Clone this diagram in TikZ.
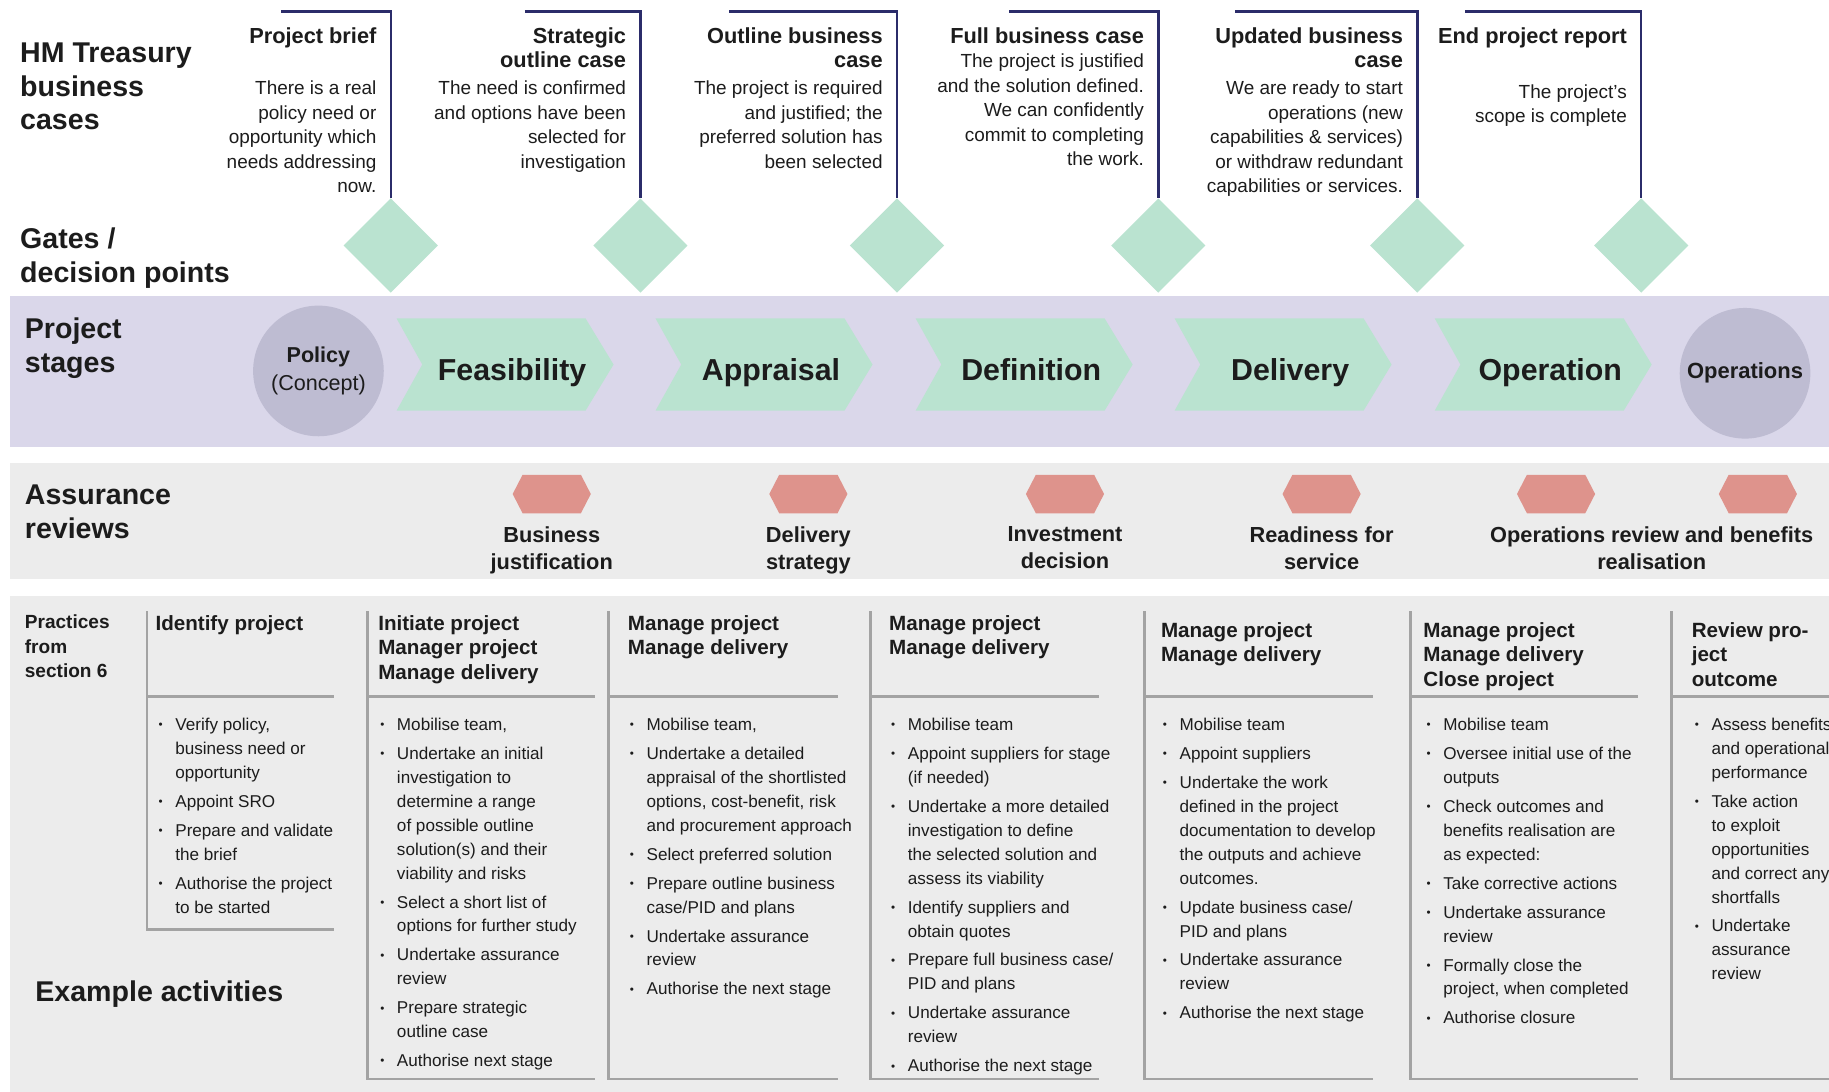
\documentclass[tikz,border=0pt]{standalone}
\usepackage{fontspec}
\setmainfont{Liberation Sans}
\usepackage{xcolor}
\usepackage{tikz}
\usetikzlibrary{shapes.geometric}

\definecolor{navy}{HTML}{2B2C6A}
\definecolor{mint}{HTML}{BAE3D0}
\definecolor{stageband}{HTML}{DAD7EA}
\definecolor{endfill}{HTML}{BEBCD2}
\definecolor{paleband}{HTML}{ECECEC}
\definecolor{salmon}{HTML}{DE938C}
\definecolor{rulegray}{HTML}{A3A3A3}
\definecolor{ink}{HTML}{1C1C1C}

\newcommand{\blt}{\llap{\raisebox{0.9pt}{\fontsize{6}{6}\selectfont\textbullet}\hspace{6.5pt}}}

\begin{document}
\begin{tikzpicture}[x=0.6pt, y=-0.6pt,
    every node/.style={text=ink, inner sep=0pt},
    rowtitle/.style={font=\fontsize{14.7}{17.4}\selectfont\bfseries, anchor=north west, yshift=10.7pt, align=left},
    casetitle/.style={font=\fontsize{11.2}{12.6}\selectfont\bfseries, anchor=north east, yshift=8.2pt, align=right},
    casetext/.style={font=\fontsize{9.75}{12.6}\selectfont, anchor=north east, yshift=7.1pt, align=right},
    caseline/.style={draw=navy, line width=1.3pt},
    gate/.style={diamond, fill=mint, minimum size=48.6pt},
    stage/.style={fill=mint},
    stagelabel/.style={font=\fontsize{15.6}{18}\selectfont\bfseries, anchor=base},
    endstage/.style={circle, fill=endfill, minimum size=67.2pt, align=center},
    review/.style={fill=salmon},
    reviewlabel/.style={font=\fontsize{11.2}{13.8}\selectfont\bfseries, anchor=north, yshift=8.2pt, align=center},
    colrule/.style={draw=rulegray, line width=1.5pt},
    colhead/.style={font=\fontsize{10.6}{12.6}\selectfont\bfseries, anchor=north west, yshift=7.7pt, align=left},
    colitems/.style={font=\fontsize{8.8}{12.3}\selectfont, anchor=north west, yshift=6.4pt, align=left}]

\useasboundingbox (0,0) rectangle (1568,936);
\fill[white] (0,0) rectangle (1568,936);
\clip (0,0) rectangle (1568,936);

\fill[stageband] (9,254) rectangle (1568,383);
\fill[paleband] (9,397) rectangle (1568,496);
\fill[paleband] (9,511) rectangle (1568,936);

\node[rowtitle] (hmt) at (17,54) {HM Treasury\\business\\cases};
\node[rowtitle] (gates) at (17,213) {Gates /\\decision points};
\node[rowtitle] (stages) at (21,290) {Project\\stages};
\node[rowtitle] (reviews) at (21,433) {Assurance\\reviews};
\node[rowtitle] (examples) at (30,858) {Example activities};
\node[font=\fontsize{9.8}{12.4}\selectfont\bfseries, anchor=north west, yshift=7.2pt, align=left] (practices) at (21,539) {Practices\\from\\section 6};

% business cases and gates
\node[gate] (g1) at (335,210.5) {};
\node[gate] (g2) at (549,210.5) {};
\node[gate] (g3) at (769,210.5) {};
\node[gate] (g4) at (993,210.5) {};
\node[gate] (g5) at (1215,210.5) {};
\node[gate] (g6) at (1407,210.5) {};

\coordinate (c1) at (241,10);
\coordinate (c2) at (450,10);
\coordinate (c3) at (625,10);
\coordinate (c4) at (865,10);
\coordinate (c5) at (1059,10);
\coordinate (c6) at (1256,10);

\draw[caseline] (c1) -| (g1.north);
\draw[caseline] (c2) -| (g2.north);
\draw[caseline] (c3) -| (g3.north);
\draw[caseline] (c4) -| (g4.north);
\draw[caseline] (c5) -| (g5.north);
\draw[caseline] (c6) -| (g6.north);

\node[casetitle] (brief) at (323,37) {Project brief};
\node[casetext] (brieftext) at (323,81) {There is a real\\policy need or\\opportunity which\\needs addressing\\now.};
\node[casetitle] (soc) at (537,37) {Strategic\\outline case};
\node[casetext] (soctext) at (537,81) {The need is confirmed\\and options have been\\selected for\\investigation};
\node[casetitle] (obc) at (757,37) {Outline business\\case};
\node[casetext] (obctext) at (757,81) {The project is required\\and justified; the\\preferred solution has\\been selected};
\node[casetitle] (fbc) at (981,37) {Full business case};
\node[casetext] (fbctext) at (981,58) {The project is justified\\and the solution defined.\\We can confidently\\commit to completing\\the work.};
\node[casetitle] (ubc) at (1203,37) {Updated business\\case};
\node[casetext] (ubctext) at (1203,81) {We are ready to start\\operations (new\\capabilities \& services)\\or withdraw redundant\\capabilities or services.};
\node[casetitle] (epr) at (1395,37) {End project report};
\node[casetext] (eprtext) at (1395,84) {The project’s\\scope is complete};

% project stages
\node[endstage, font=\fontsize{11.1}{14.4}\selectfont] (policy) at (273,318) {\textbf{Policy}\\(Concept)};
\fill[stage] (340,273) -- ++(162,0) -- ++(24,39.5) -- ++(-24,39.5) -- ++(-162,0) -- ++(22,-39.5) -- cycle;
\fill[stage] (562,273) -- ++(162,0) -- ++(24,39.5) -- ++(-24,39.5) -- ++(-162,0) -- ++(22,-39.5) -- cycle;
\fill[stage] (785,273) -- ++(162,0) -- ++(24,39.5) -- ++(-24,39.5) -- ++(-162,0) -- ++(22,-39.5) -- cycle;
\fill[stage] (1007,273) -- ++(162,0) -- ++(24,39.5) -- ++(-24,39.5) -- ++(-162,0) -- ++(22,-39.5) -- cycle;
\fill[stage] (1230,273) -- ++(162,0) -- ++(24,39.5) -- ++(-24,39.5) -- ++(-162,0) -- ++(22,-39.5) -- cycle;
\node[stagelabel] (feasibility) at (439,326) {Feasibility};
\node[stagelabel] (appraisal) at (661,326) {Appraisal};
\node[stagelabel] (definition) at (884,326) {Definition};
\node[stagelabel] (delivery) at (1106,326) {Delivery};
\node[stagelabel] (operation) at (1329,326) {Operation};
\node[endstage, font=\fontsize{11.3}{14}\selectfont\bfseries] (operations) at (1496,320) {Operations};

% assurance reviews
\fill[review] (439.5,423.5) -- ++(8.5,-16.5) -- ++(50,0) -- ++(8.5,16.5) -- ++(-8.5,16.5) -- ++(-50,0) -- cycle;
\fill[review] (659.5,423.5) -- ++(8.5,-16.5) -- ++(50,0) -- ++(8.5,16.5) -- ++(-8.5,16.5) -- ++(-50,0) -- cycle;
\fill[review] (879.5,423.5) -- ++(8.5,-16.5) -- ++(50,0) -- ++(8.5,16.5) -- ++(-8.5,16.5) -- ++(-50,0) -- cycle;
\fill[review] (1099.5,423.5) -- ++(8.5,-16.5) -- ++(50,0) -- ++(8.5,16.5) -- ++(-8.5,16.5) -- ++(-50,0) -- cycle;
\fill[review] (1300.5,423.5) -- ++(8.5,-16.5) -- ++(50,0) -- ++(8.5,16.5) -- ++(-8.5,16.5) -- ++(-50,0) -- cycle;
\fill[review] (1473.5,423.5) -- ++(8.5,-16.5) -- ++(50,0) -- ++(8.5,16.5) -- ++(-8.5,16.5) -- ++(-50,0) -- cycle;
\node[reviewlabel] (justification) at (473,465) {Business\\justification};
\node[reviewlabel] (strategy) at (693,465) {Delivery\\strategy};
\node[reviewlabel] (investment) at (913,465) {Investment\\decision};
\node[reviewlabel] (readiness) at (1133,465) {Readiness for\\service};
\node[reviewlabel] (benefits) at (1416,465) {Operations review and benefits\\realisation};

% practices and example activities
\draw[colrule] (126,524) -- (126,797) -- (286,797);
\draw[colrule] (126,597) -- (286,597);
\draw[colrule] (315,524) -- (315,925) -- (510,925);
\draw[colrule] (315,597) -- (510,597);
\draw[colrule] (522,524) -- (522,925) -- (718,925);
\draw[colrule] (522,597) -- (718,597);
\draw[colrule] (746,524) -- (746,925) -- (942,925);
\draw[colrule] (746,597) -- (942,597);
\draw[colrule] (981,524) -- (981,925) -- (1177,925);
\draw[colrule] (981,597) -- (1177,597);
\draw[colrule] (1209,524) -- (1209,925) -- (1404,925);
\draw[colrule] (1209,597) -- (1404,597);
\draw[colrule] (1433,524) -- (1433,925) -- (1568,925);
\draw[colrule] (1433,597) -- (1568,597);

\node[colhead] (identify) at (133,540) {Identify project};
\node[colhead] (initiate) at (324,540) {Initiate project\\Manager project\\Manage delivery};
\node[colhead] (manage1) at (538,540) {Manage project\\Manage delivery};
\node[colhead] (manage2) at (762,540) {Manage project\\Manage delivery};
\node[colhead] (manage3) at (995,546) {Manage project\\Manage delivery};
\node[colhead] (close) at (1220,546) {Manage project\\Manage delivery\\Close project};
\node[colhead] (outcome) at (1450,546) {Review pro-\\ject\\outcome};

\node[colitems] (identifyitems) at (150,626) {\blt Verify policy,\\business need or\\opportunity\\[2.6pt]
  \blt Appoint SRO\\[2.6pt]
  \blt Prepare and validate\\the brief\\[2.6pt]
  \blt Authorise the project\\to be started};
\node[colitems] (initiateitems) at (340,626) {\blt Mobilise team,\\[2.6pt]
  \blt Undertake an initial\\investigation to\\determine a range\\of possible outline\\solution(s) and their\\viability and risks\\[2.6pt]
  \blt Select a short list of\\options for further study\\[2.6pt]
  \blt Undertake assurance\\review\\[2.6pt]
  \blt Prepare strategic\\outline case\\[2.6pt]
  \blt Authorise next stage};
\node[colitems] (manage1items) at (554,626) {\blt Mobilise team,\\[2.6pt]
  \blt Undertake a detailed\\appraisal of the shortlisted\\options, cost-benefit, risk\\and procurement approach\\[2.6pt]
  \blt Select preferred solution\\[2.6pt]
  \blt Prepare outline business\\case/PID and plans\\[2.6pt]
  \blt Undertake assurance\\review\\[2.6pt]
  \blt Authorise the next stage};
\node[colitems] (manage2items) at (778,626) {\blt Mobilise team\\[2.6pt]
  \blt Appoint suppliers for stage\\(if needed)\\[2.6pt]
  \blt Undertake a more detailed\\investigation to define\\the selected solution and\\assess its viability\\[2.6pt]
  \blt Identify suppliers and\\obtain quotes\\[2.6pt]
  \blt Prepare full business case/\\PID and plans\\[2.6pt]
  \blt Undertake assurance\\review\\[2.6pt]
  \blt Authorise the next stage};
\node[colitems] (manage3items) at (1011,626) {\blt Mobilise team\\[2.6pt]
  \blt Appoint suppliers\\[2.6pt]
  \blt Undertake the work\\defined in the project\\documentation to develop\\the outputs and achieve\\outcomes.\\[2.6pt]
  \blt Update business case/\\PID and plans\\[2.6pt]
  \blt Undertake assurance\\review\\[2.6pt]
  \blt Authorise the next stage};
\node[colitems] (closeitems) at (1237,626) {\blt Mobilise team\\[2.6pt]
  \blt Oversee initial use of the\\outputs\\[2.6pt]
  \blt Check outcomes and\\benefits realisation are\\as expected:\\[2.6pt]
  \blt Take corrective actions\\[2.6pt]
  \blt Undertake assurance\\review\\[2.6pt]
  \blt Formally close the\\project, when completed\\[2.6pt]
  \blt Authorise closure};
\node[colitems] (outcomeitems) at (1467,626) {\blt Assess benefits\\and operational\\performance\\[2.6pt]
  \blt Take action\\to exploit\\opportunities\\and correct any\\shortfalls\\[2.6pt]
  \blt Undertake\\assurance\\review};
\end{tikzpicture}
\end{document}
